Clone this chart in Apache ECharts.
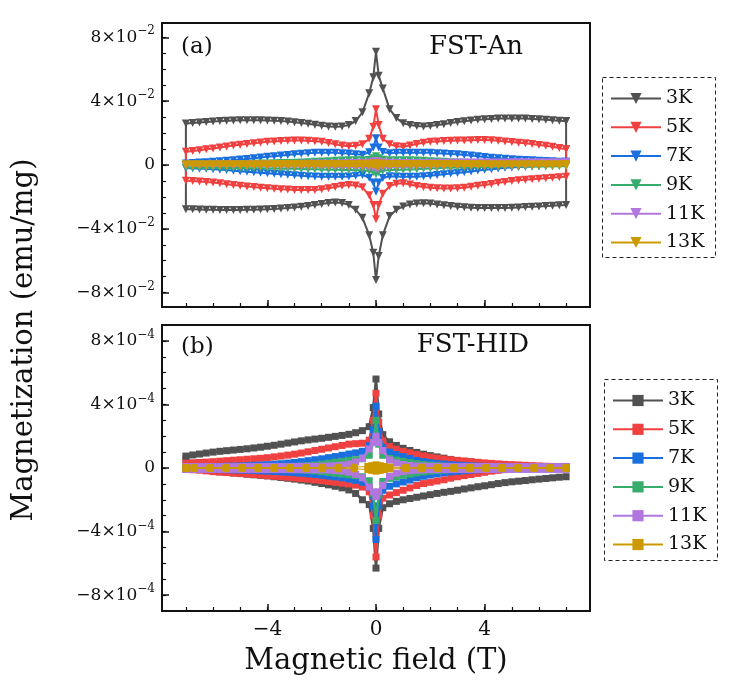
<!DOCTYPE html>
<html>
<head>
<meta charset="utf-8">
<script src="https://cdn.jsdelivr.net/npm/echarts@6/dist/echarts.min.js"></script>
<style>html,body{margin:0;padding:0;background:#fff}#c{width:729px;height:694px}</style>
</head>
<body>
<div id="c"></div>
<script>
// ---------------- DATA ----------------
const temps = ['3K','5K','7K','9K','11K','13K'];
const colors = ['#515151','#F14040','#1A6FDF','#37AD6B','#B177DE','#CC9900'];
// Magnetic field (T), shared by the branches
const field = [-7,-6.75,-6.5,-6.25,-6,-5.75,-5.5,-5.25,-5,-4.75,-4.5,-4.25,-4,-3.75,-3.5,-3.25,-3,-2.75,-2.5,-2.25,-2,-1.75,-1.5,-1.25,-1,-0.75,-0.5,-0.25,-0.1,0,0.1,0.25,0.5,0.75,1,1.25,1.5,1.75,2,2.25,2.5,2.75,3,3.25,3.5,3.75,4,4.25,4.5,4.75,5,5.25,5.5,5.75,6,6.25,6.5,6.75,7];
const field13b = [-7,-6.7,-6.11,-5.52,-4.93,-4.34,-3.75,-3.16,-2.57,-1.98,-1.39,-0.8,-0.3,-0.15,0,0.15,0.3,0.51,1.1,1.69,2.28,2.87,3.46,4.05,4.64,5.23,5.82,6.41,7];

// (a) FST-An, magnetization in units of 1e-2 emu/mg
const aU3 = [2.60,2.63,2.66,2.69,2.72,2.75,2.77,2.79,2.80,2.81,2.81,2.80,2.79,2.77,2.75,2.72,2.68,2.63,2.58,2.52,2.46,2.42,2.40,2.42,2.50,2.75,3.30,4.50,5.50,7.10,5.60,4.80,3.50,2.95,2.62,2.50,2.44,2.42,2.44,2.50,2.56,2.63,2.69,2.74,2.79,2.83,2.86,2.89,2.91,2.92,2.92,2.92,2.91,2.89,2.86,2.83,2.80,2.77,2.75];
const aL3 = [-2.77,-2.78,-2.79,-2.80,-2.81,-2.82,-2.82,-2.82,-2.82,-2.81,-2.80,-2.79,-2.78,-2.76,-2.73,-2.70,-2.66,-2.62,-2.57,-2.50,-2.44,-2.38,-2.35,-2.38,-2.50,-2.80,-3.30,-4.40,-5.50,-7.20,-5.70,-4.40,-3.20,-2.80,-2.60,-2.48,-2.42,-2.40,-2.42,-2.47,-2.52,-2.57,-2.62,-2.65,-2.68,-2.69,-2.70,-2.70,-2.70,-2.69,-2.68,-2.66,-2.64,-2.62,-2.60,-2.57,-2.55,-2.52,-2.50];
const aU5 = [0.83,0.88,0.93,0.98,1.04,1.10,1.16,1.22,1.27,1.32,1.37,1.41,1.45,1.48,1.51,1.52,1.53,1.53,1.52,1.49,1.45,1.38,1.30,1.22,1.18,1.20,1.30,1.65,2.40,3.50,2.50,1.65,1.30,1.18,1.15,1.22,1.32,1.40,1.45,1.48,1.50,1.52,1.53,1.54,1.55,1.56,1.56,1.55,1.52,1.48,1.44,1.40,1.36,1.31,1.26,1.20,1.15,1.07,0.98];
const aL5 = [-0.98,-1.01,-1.04,-1.07,-1.10,-1.15,-1.20,-1.25,-1.30,-1.34,-1.38,-1.42,-1.46,-1.49,-1.52,-1.54,-1.56,-1.57,-1.57,-1.56,-1.52,-1.46,-1.38,-1.30,-1.25,-1.28,-1.40,-1.90,-2.50,-3.40,-2.50,-1.80,-1.32,-1.18,-1.15,-1.22,-1.32,-1.38,-1.43,-1.46,-1.48,-1.48,-1.46,-1.42,-1.36,-1.30,-1.25,-1.19,-1.12,-1.06,-1.00,-0.96,-0.92,-0.89,-0.86,-0.83,-0.80,-0.76,-0.73];
const aU7 = [0.10,0.12,0.15,0.17,0.20,0.23,0.26,0.30,0.34,0.38,0.42,0.47,0.51,0.55,0.59,0.63,0.67,0.71,0.74,0.76,0.77,0.77,0.76,0.74,0.72,0.68,0.65,0.80,1.10,1.67,1.10,0.82,0.74,0.76,0.77,0.77,0.77,0.77,0.76,0.74,0.72,0.69,0.67,0.63,0.59,0.55,0.50,0.46,0.42,0.39,0.36,0.33,0.31,0.29,0.27,0.25,0.23,0.21,0.20];
const aL7 = [-0.20,-0.21,-0.23,-0.24,-0.26,-0.29,-0.32,-0.36,-0.39,-0.42,-0.45,-0.49,-0.52,-0.55,-0.58,-0.61,-0.64,-0.67,-0.70,-0.72,-0.73,-0.74,-0.74,-0.73,-0.72,-0.68,-0.62,-0.80,-1.10,-1.67,-1.10,-0.82,-0.70,-0.72,-0.74,-0.74,-0.73,-0.71,-0.67,-0.63,-0.58,-0.54,-0.50,-0.45,-0.40,-0.35,-0.30,-0.26,-0.22,-0.18,-0.15,-0.13,-0.11,-0.09,-0.07,-0.05,-0.04,-0.02,0.00];
const aU9 = [0.00,0.01,0.02,0.02,0.03,0.03,0.04,0.05,0.06,0.07,0.08,0.09,0.10,0.11,0.12,0.13,0.14,0.16,0.18,0.20,0.22,0.24,0.26,0.28,0.30,0.30,0.29,0.32,0.42,0.55,0.42,0.33,0.30,0.30,0.30,0.29,0.28,0.26,0.24,0.22,0.20,0.18,0.16,0.14,0.13,0.12,0.11,0.10,0.09,0.08,0.07,0.07,0.06,0.06,0.05,0.05,0.05,0.04,0.04];
const aL9 = [-0.18,-0.18,-0.18,-0.19,-0.19,-0.19,-0.20,-0.20,-0.20,-0.21,-0.21,-0.21,-0.22,-0.22,-0.23,-0.23,-0.24,-0.25,-0.26,-0.27,-0.28,-0.29,-0.30,-0.31,-0.32,-0.32,-0.33,-0.38,-0.45,-0.58,-0.45,-0.36,-0.32,-0.31,-0.30,-0.28,-0.26,-0.24,-0.22,-0.20,-0.18,-0.17,-0.16,-0.15,-0.14,-0.13,-0.12,-0.12,-0.11,-0.11,-0.10,-0.10,-0.10,-0.09,-0.09,-0.09,-0.09,-0.08,-0.08];
const aU11 = [0.02,0.02,0.03,0.03,0.03,0.04,0.04,0.04,0.05,0.05,0.05,0.06,0.06,0.06,0.07,0.07,0.07,0.08,0.08,0.09,0.09,0.10,0.10,0.11,0.12,0.13,0.14,0.16,0.20,0.25,0.20,0.16,0.14,0.13,0.13,0.13,0.13,0.13,0.13,0.14,0.14,0.14,0.15,0.15,0.15,0.15,0.16,0.16,0.16,0.16,0.17,0.17,0.17,0.17,0.17,0.17,0.18,0.18,0.18];
const aL11 = [-0.05,-0.05,-0.05,-0.06,-0.06,-0.06,-0.06,-0.07,-0.07,-0.07,-0.07,-0.08,-0.08,-0.08,-0.08,-0.09,-0.09,-0.09,-0.10,-0.10,-0.10,-0.11,-0.11,-0.12,-0.12,-0.13,-0.14,-0.16,-0.20,-0.25,-0.20,-0.16,-0.13,-0.12,-0.11,-0.10,-0.10,-0.09,-0.09,-0.08,-0.08,-0.07,-0.07,-0.06,-0.06,-0.05,-0.05,-0.05,-0.04,-0.04,-0.04,-0.03,-0.03,-0.03,-0.02,-0.02,-0.02,-0.01,-0.01];
const aU13 = [0.04,0.04,0.04,0.04,0.05,0.05,0.05,0.05,0.05,0.05,0.05,0.05,0.05,0.06,0.06,0.06,0.06,0.06,0.06,0.06,0.06,0.07,0.07,0.07,0.07,0.07,0.08,0.08,0.09,0.10,0.09,0.08,0.07,0.07,0.07,0.07,0.06,0.06,0.06,0.06,0.06,0.06,0.06,0.06,0.06,0.06,0.05,0.05,0.05,0.05,0.05,0.05,0.05,0.05,0.05,0.05,0.05,0.05,0.05];
const aL13 = [-0.03,-0.03,-0.03,-0.03,-0.03,-0.03,-0.03,-0.03,-0.04,-0.04,-0.04,-0.04,-0.04,-0.04,-0.04,-0.04,-0.04,-0.04,-0.05,-0.05,-0.05,-0.05,-0.05,-0.05,-0.06,-0.06,-0.06,-0.07,-0.08,-0.10,-0.08,-0.07,-0.06,-0.06,-0.05,-0.05,-0.05,-0.05,-0.05,-0.05,-0.04,-0.04,-0.04,-0.04,-0.04,-0.04,-0.04,-0.04,-0.03,-0.03,-0.03,-0.03,-0.03,-0.03,-0.03,-0.03,-0.03,-0.03,-0.03];

// (b) FST-HID, magnetization in units of 1e-4 emu/mg
const bU3 = [0.75,0.82,0.88,0.94,1.00,1.05,1.09,1.13,1.17,1.21,1.26,1.31,1.37,1.43,1.50,1.57,1.64,1.71,1.77,1.82,1.87,1.93,1.99,2.05,2.12,2.22,2.35,2.60,3.80,5.60,3.40,2.10,1.65,1.42,1.24,1.10,0.98,0.87,0.78,0.70,0.62,0.54,0.47,0.42,0.38,0.33,0.28,0.24,0.21,0.18,0.15,0.13,0.11,0.10,0.09,0.08,0.07,0.06,0.05];
const bL3 = [0.55,0.30,0.10,-0.05,-0.20,-0.24,-0.28,-0.31,-0.35,-0.39,-0.43,-0.46,-0.50,-0.55,-0.60,-0.65,-0.70,-0.76,-0.82,-0.90,-0.98,-1.06,-1.15,-1.25,-1.38,-1.60,-2.00,-2.30,-3.80,-6.30,-3.80,-2.50,-2.25,-2.10,-2.00,-1.92,-1.84,-1.76,-1.68,-1.60,-1.53,-1.47,-1.40,-1.32,-1.25,-1.18,-1.12,-1.05,-0.98,-0.92,-0.87,-0.83,-0.79,-0.74,-0.70,-0.66,-0.62,-0.58,-0.55];
const bU5 = [0.30,0.32,0.35,0.37,0.40,0.43,0.46,0.49,0.52,0.55,0.58,0.61,0.65,0.70,0.75,0.81,0.87,0.94,1.02,1.10,1.18,1.26,1.34,1.42,1.50,1.53,1.56,1.75,3.00,4.70,2.90,1.70,1.35,1.18,1.05,0.95,0.85,0.76,0.68,0.62,0.56,0.52,0.48,0.44,0.40,0.36,0.32,0.29,0.26,0.23,0.21,0.19,0.17,0.15,0.13,0.11,0.10,0.09,0.08];
const bL5 = [-0.08,-0.11,-0.14,-0.18,-0.23,-0.26,-0.29,-0.32,-0.35,-0.38,-0.41,-0.45,-0.48,-0.52,-0.55,-0.59,-0.63,-0.67,-0.71,-0.75,-0.80,-0.85,-0.90,-0.95,-1.00,-1.08,-1.20,-1.50,-3.00,-5.60,-3.00,-1.90,-1.70,-1.55,-1.40,-1.25,-1.10,-0.98,-0.90,-0.82,-0.74,-0.64,-0.55,-0.48,-0.41,-0.34,-0.27,-0.20,-0.15,-0.10,-0.06,-0.02,0.00,0.03,0.05,0.07,0.08,0.09,0.10];
const bU7 = [0.05,0.06,0.07,0.08,0.09,0.10,0.11,0.12,0.13,0.15,0.17,0.19,0.21,0.24,0.27,0.31,0.35,0.40,0.46,0.52,0.58,0.65,0.72,0.80,0.88,0.95,1.05,1.40,2.40,3.90,2.30,1.30,1.00,0.85,0.72,0.60,0.48,0.40,0.34,0.29,0.25,0.21,0.18,0.16,0.14,0.12,0.10,0.09,0.08,0.07,0.06,0.05,0.05,0.04,0.04,0.03,0.03,0.02,0.02];
const bL7 = [-0.05,-0.06,-0.07,-0.08,-0.09,-0.10,-0.11,-0.12,-0.13,-0.14,-0.16,-0.18,-0.20,-0.22,-0.24,-0.27,-0.30,-0.33,-0.37,-0.41,-0.46,-0.51,-0.56,-0.62,-0.70,-0.78,-0.90,-1.20,-2.40,-4.50,-2.40,-1.40,-1.15,-1.00,-0.88,-0.76,-0.62,-0.52,-0.44,-0.37,-0.30,-0.25,-0.21,-0.17,-0.14,-0.11,-0.08,-0.07,-0.06,-0.05,-0.04,-0.03,-0.03,-0.02,-0.02,-0.01,-0.01,0.00,0.00];
const bU9 = [0.02,0.02,0.02,0.03,0.03,0.03,0.04,0.04,0.04,0.05,0.05,0.06,0.06,0.07,0.08,0.09,0.10,0.12,0.15,0.19,0.24,0.30,0.36,0.42,0.48,0.52,0.58,0.80,1.60,3.00,1.50,0.80,0.60,0.50,0.42,0.34,0.27,0.22,0.18,0.15,0.12,0.10,0.08,0.07,0.06,0.05,0.04,0.04,0.03,0.03,0.02,0.02,0.02,0.01,0.01,0.01,0.01,0.00,0.00];
const bL9 = [-0.02,-0.02,-0.02,-0.03,-0.03,-0.03,-0.04,-0.04,-0.04,-0.05,-0.05,-0.06,-0.06,-0.07,-0.08,-0.09,-0.10,-0.12,-0.15,-0.19,-0.23,-0.28,-0.33,-0.38,-0.43,-0.48,-0.55,-0.80,-1.60,-3.30,-1.70,-0.85,-0.65,-0.55,-0.46,-0.38,-0.31,-0.25,-0.20,-0.16,-0.13,-0.10,-0.08,-0.07,-0.06,-0.05,-0.04,-0.04,-0.03,-0.03,-0.02,-0.02,-0.02,-0.01,-0.01,-0.01,-0.01,0.00,0.00];
const bU11 = [0.09,0.09,0.09,0.09,0.09,0.09,0.09,0.09,0.09,0.10,0.10,0.10,0.10,0.10,0.10,0.10,0.10,0.11,0.11,0.11,0.12,0.13,0.15,0.18,0.25,0.38,0.60,1.20,1.60,2.00,1.60,1.10,0.50,0.32,0.22,0.16,0.13,0.12,0.11,0.11,0.10,0.10,0.10,0.10,0.10,0.10,0.10,0.10,0.10,0.09,0.09,0.09,0.09,0.09,0.09,0.09,0.09,0.09,0.09];
const bL11 = [-0.09,-0.09,-0.09,-0.09,-0.09,-0.09,-0.09,-0.09,-0.10,-0.10,-0.10,-0.10,-0.10,-0.10,-0.10,-0.10,-0.11,-0.11,-0.11,-0.12,-0.12,-0.13,-0.16,-0.19,-0.26,-0.40,-0.62,-1.20,-1.50,-1.80,-1.50,-1.10,-0.52,-0.33,-0.23,-0.17,-0.14,-0.12,-0.11,-0.11,-0.10,-0.10,-0.10,-0.10,-0.10,-0.10,-0.10,-0.09,-0.09,-0.09,-0.09,-0.09,-0.09,-0.09,-0.09,-0.09,-0.09,-0.09,-0.09];
const bU13 = [0.03,0.03,0.03,0.03,0.03,0.03,0.03,0.03,0.03,0.04,0.04,0.05,0.10,0.15,0.20,0.15,0.10,0.05,0.04,0.04,0.03,0.03,0.03,0.03,0.03,0.03,0.03,0.03,0.03];
const bL13 = [-0.03,-0.03,-0.03,-0.03,-0.03,-0.03,-0.03,-0.03,-0.03,-0.04,-0.04,-0.05,-0.10,-0.15,-0.20,-0.15,-0.10,-0.05,-0.04,-0.04,-0.03,-0.03,-0.03,-0.03,-0.03,-0.03,-0.03,-0.03,-0.03];

const xMajor = [-4,0,4];
const xMinor = [-7,-6,-5,-4,-3,-2,-1,0,1,2,3,4,5,6,7];
const yMajor = [-8,-4,0,4,8];
const yMinor = [-8,-7,-6,-5,-4,-3,-2,-1,0,1,2,3,4,5,6,7,8];

// ---------------- CHART ----------------
const FONT = 'DejaVu Serif';
const INK = '#111';
const chart = echarts.init(document.getElementById('c'), null, {renderer:'canvas'});

function loop(f, up, lo, close){
  const d = [];
  for (let i = f.length-1; i >= 0; i--) d.push([f[i], up[i]]);
  for (let i = 0; i < f.length; i++) d.push([f[i], lo[i]]);
  if (close) d.push([f[f.length-1], up[f.length-1]]);
  return d;
}
const topSets = [[aU3,aL3],[aU5,aL5],[aU7,aL7],[aU9,aL9],[aU11,aL11],[aU13,aL13]];
const botSets = [[bU3,bL3],[bU5,bL5],[bU7,bL7],[bU9,bL9],[bU11,bL11],[bU13,bL13]];

const series = [];
temps.forEach((t,i)=>{
  series.push({
    name:'a:'+t, type:'line', xAxisIndex:0, yAxisIndex:0,
    data: loop(field, topSets[i][0], topSets[i][1], true),
    symbol:'triangle', symbolRotate:180, symbolSize:8,
    lineStyle:{color:colors[i], width:2}, itemStyle:{color:colors[i]},
    animation:false, z: 2+i
  });
});
temps.forEach((t,i)=>{
  const f = (i===5) ? field13b : field;
  series.push({
    name:'b:'+t, type:'line', xAxisIndex:2, yAxisIndex:2,
    data: loop(f, botSets[i][0], botSets[i][1], false),
    symbol:'rect', symbolSize:7,
    lineStyle:{color:colors[i], width: i===5 ? 1 : 2.5}, itemStyle:{color:colors[i]},
    animation:false, z: 2+i
  });
});

function yLab(exp){
  return function(v){
    if (v === 0) return '{n|0}';
    return '{n|' + (v<0?'−':'') + Math.abs(v) + '×10}{s|−' + exp + '}';
  };
}
const rich = {
  n:{fontFamily:FONT, fontSize:17, color:INK, lineHeight:24, verticalAlign:'middle'},
  s:{fontFamily:FONT, fontSize:12, color:INK, lineHeight:24, verticalAlign:'top'}
};
function xAxes(gi, showLabel){
  return [{
    gridIndex:gi, type:'value', min:-7.88, max:7.88, position:'bottom',
    axisLine:{show:false, onZero:false}, splitLine:{show:false},
    axisTick:{show:true, inside:true, length:7, customValues:xMajor, lineStyle:{color:INK, width:1.5}},
    axisLabel:{show:showLabel, customValues:xMajor, margin:9, fontFamily:FONT, fontSize:20, color:INK,
      formatter: v => v<0 ? '−'+(-v) : String(v)},
    name: showLabel ? 'Magnetic field (T)' : '', nameLocation:'middle', nameGap:36,
    nameTextStyle:{fontFamily:FONT, fontSize:29, color:INK}
  },{
    gridIndex:gi, type:'value', min:-7.88, max:7.88, position:'bottom',
    axisLine:{show:false, onZero:false}, splitLine:{show:false}, axisLabel:{show:false},
    axisTick:{show:true, inside:true, length:4, customValues:xMinor, lineStyle:{color:INK, width:1.2}}
  }];
}
function yAxes(gi, lim, exp){
  return [{
    gridIndex:gi, type:'value', min:-lim, max:lim, position:'left',
    axisLine:{show:false, onZero:false}, splitLine:{show:false},
    axisTick:{show:true, inside:true, length:7, customValues:yMajor, lineStyle:{color:INK, width:1.5}},
    axisLabel:{show:true, customValues:yMajor, margin:7, formatter:yLab(exp), rich:rich}
  },{
    gridIndex:gi, type:'value', min:-lim, max:lim, position:'left',
    axisLine:{show:false, onZero:false}, splitLine:{show:false}, axisLabel:{show:false},
    axisTick:{show:true, inside:true, length:4, customValues:yMinor, lineStyle:{color:INK, width:1.2}}
  }];
}

const legendCommon = {
  orient:'vertical', itemWidth:50, itemHeight:14, itemGap:9.8, selectedMode:false,
  textStyle:{fontFamily:FONT, fontSize:19, color:INK},
  formatter: n => n.split(':')[1]
};

const option = {
  backgroundColor:'#fff',
  animation:false,
  grid:[
    {left:162, top:23, width:428, height:284, show:true, borderColor:INK, borderWidth:2, backgroundColor:'transparent'},
    {left:162, top:325, width:428, height:286, show:true, borderColor:INK, borderWidth:2, backgroundColor:'transparent'}
  ],
  xAxis: [...xAxes(0,false), ...xAxes(1,true)],
  yAxis: [...yAxes(0,8.9,2), ...yAxes(1,9.0,4)],
  legend:[
    Object.assign({left:605, top:84, data: temps.map(t=>'a:'+t)}, legendCommon),
    Object.assign({left:607, top:386, data: temps.map(t=>'b:'+t)}, legendCommon)
  ],
  graphic:[
    {type:'rect', shape:{x:602.5, y:77.5, width:113, height:180}, style:{fill:'none', stroke:'#222', lineWidth:1, lineDash:[4,3]}, z:100},
    {type:'rect', shape:{x:604.5, y:379.5, width:113, height:181}, style:{fill:'none', stroke:'#222', lineWidth:1, lineDash:[4,3]}, z:100},
    {type:'text', x:181, y:47, style:{text:'(a)', fontFamily:FONT, fontSize:23, fill:INK, verticalAlign:'middle', align:'left'}, z:100},
    {type:'text', x:476, y:47, style:{text:'FST-An', fontFamily:FONT, fontSize:26, fill:INK, verticalAlign:'middle', align:'center'}, z:100},
    {type:'text', x:181, y:347, style:{text:'(b)', fontFamily:FONT, fontSize:23, fill:INK, verticalAlign:'middle', align:'left'}, z:100},
    {type:'text', x:473, y:345, style:{text:'FST-HID', fontFamily:FONT, fontSize:26, fill:INK, verticalAlign:'middle', align:'center'}, z:100},
    {type:'text', x:24, y:340, rotation:Math.PI/2, style:{text:'Magnetization (emu/mg)', fontFamily:FONT, fontSize:29, fill:INK, verticalAlign:'middle', align:'center'}, z:100}
  ],
  series: series
};
chart.setOption(option);
</script>
</body>
</html>
